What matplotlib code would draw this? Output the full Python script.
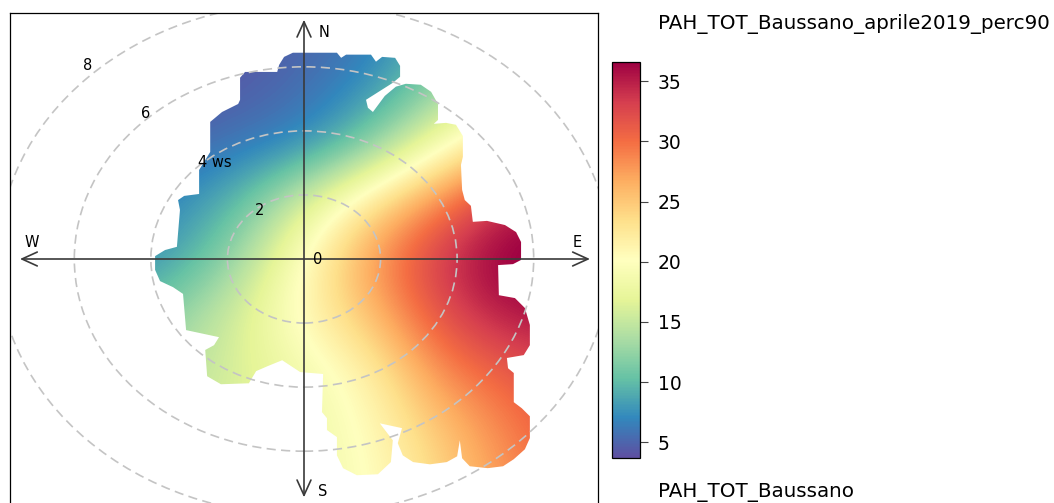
import numpy as np
import matplotlib
matplotlib.use("Agg")
import matplotlib.pyplot as plt
from matplotlib.patches import Polygon, Ellipse
from matplotlib.cm import ScalarMappable
from matplotlib.colors import Normalize

plt.rcParams['font.family'] = ['DejaVu Sans']

# griglia del valore (perc90) stimato: righe v = 8..-8, colonne u = -8..8 (passo 2 m/s)
grid_u = [-8, -6, -4, -2, 0, 2, 4, 6, 8]
grid_v = [8, 6, 4, 2, 0, -2, -4, -6, -8]
pah_grid = np.array([
    [4, 4, 4, 4, 5, 6, 10, 14, 18],
    [4, 4, 4, 4.5, 5.5, 7.5, 12, 17, 22],
    [4, 4, 5, 6, 7, 11.5, 19, 25, 29],
    [5, 6, 7, 9.5, 16, 23, 29, 35, 36],
    [6, 7, 8, 12.5, 20.5, 28, 34, 37.5, 37.5],
    [9, 10, 12, 16, 21, 25.5, 32, 35.5, 36],
    [12, 13, 14, 16, 18.5, 21.5, 28.5, 31, 33],
    [14, 15, 15.5, 16.5, 18, 20.5, 25, 29, 32],
    [15, 16, 16, 17, 18, 20, 24, 28, 31],
])

# contorno della zona con dati (u, v in m/s)
mask_u = [-1.67, -1.67, -1.54, -0.70, -0.65, -0.52, -0.29, 0.86, 0.97, 1.10, 1.75, 1.88,
          2.04, 2.38, 2.51, 2.51, 2.32, 1.62, 1.67, 1.80, 2.11, 2.40, 2.66, 3.05, 3.32,
          3.50, 3.50, 3.39, 3.71, 3.97, 4.15, 4.15, 4.10, 4.13, 4.20, 4.36, 4.41, 4.78,
          5.25, 5.54, 5.67, 5.67, 5.46, 5.07, 5.09, 5.51, 5.77, 5.90, 5.90, 5.74, 5.30,
          5.33, 5.48, 5.48, 5.69, 5.90, 5.90, 5.77, 5.48, 5.20, 4.80, 4.33, 4.13, 4.07,
          4.00, 3.73, 3.29, 2.85, 2.58, 2.45, 2.56, 1.98, 2.32, 2.27, 1.93, 1.38, 1.02,
          0.86, 0.86, 0.60, 0.60, 0.47, 0.50, -0.10, -0.57, -0.94, -1.25, -1.44, -2.17,
          -2.53, -2.58, -2.35, -2.22, -3.08, -3.16, -3.42, -3.76, -3.89, -3.89, -3.63,
          -3.32, -3.24, -3.29, -3.13, -2.74, -2.74, -2.58, -2.45, -2.45, -2.14, -1.72]
mask_v = [4.97, 5.66, 5.84, 5.84, 6.06, 6.31, 6.44, 6.44, 6.28, 6.38, 6.38, 6.16,
          6.31, 6.28, 6.03, 5.69, 5.50, 4.97, 4.72, 4.59, 5.09, 5.38, 5.47, 5.44, 5.22,
          4.84, 4.34, 4.22, 4.25, 4.19, 3.84, 3.19, 2.94, 2.16, 1.84, 1.66, 1.16, 1.19,
          1.06, 0.84, 0.53, -0.03, -0.16, -0.19, -1.13, -1.22, -1.53, -2.06, -2.69, -3.00,
          -3.09, -3.41, -3.56, -4.47, -4.66, -4.91, -5.59, -5.94, -6.25, -6.47, -6.53,
          -6.47, -6.22, -5.66, -6.16, -6.34, -6.41, -6.34, -6.13, -5.75, -5.28, -5.13,
          -5.66, -6.34, -6.72, -6.75, -6.53, -6.13, -5.56, -5.34, -4.97, -4.78, -3.59,
          -3.53, -3.16, -3.34, -3.50, -3.88, -3.91, -3.66, -2.84, -2.69, -2.44, -2.22,
          -1.09, -0.88, -0.69, -0.34, 0.09, 0.28, 0.38, 1.53, 1.84, 1.97, 2.03, 2.78,
          3.09, 3.34, 4.28, 4.59, 4.84]

ring_ws = [2, 4, 6, 8]
ring_labels = ['2', '4 ws', '6', '8']
cbar_ticks = [5, 10, 15, 20, 25, 30, 35]
vmin, vmax = 3.7, 36.6
title = 'PAH_TOT_Baussano_aprile2019_perc90'
subtitle = 'PAH_TOT_Baussano'

W, H = 1054, 503
fig = plt.figure(figsize=(W / 100, H / 100), dpi=100)
ax = fig.add_axes([10 / W, -2 / H, 588 / W, 492 / H])
lim = 7.68
ax.set_xlim(-lim, lim)
ax.set_ylim(-lim, lim)
ax.set_xticks([])
ax.set_yticks([])
for s in ax.spines.values():
    s.set_linewidth(0.9)

cmap = plt.get_cmap('Spectral_r')
img = ax.imshow(pah_grid, extent=(grid_u[0], grid_u[-1], grid_v[-1], grid_v[0]),
                origin='upper', cmap=cmap, vmin=vmin, vmax=vmax,
                interpolation='bicubic', aspect='auto', zorder=1)
outline = Polygon(np.column_stack([mask_u, mask_v]), closed=True,
                  transform=ax.transData, facecolor='none', edgecolor='none')
ax.add_patch(outline)
img.set_clip_path(outline)

# cerchi della velocita' del vento
for r in ring_ws:
    ax.add_patch(Ellipse((0, 0), 2 * r, 2 * r, fill=False, edgecolor='#c4c4c4',
                         lw=1.2, linestyle=(0, (5.5, 3.2)), zorder=2))
for r, lab in zip(ring_ws, ring_labels):
    if lab == '4 ws':
        ax.text(-0.75 * r + 0.23, 0.755 * r, lab, fontsize=10.5,
                ha='left', va='center', zorder=4)
    else:
        ax.text(-0.75 * r + 0.35, 0.755 * r, lab, fontsize=10.5,
                ha='center', va='center', zorder=4)
ax.text(0.37, 0, '0', fontsize=10.5, ha='center', va='center', zorder=4)

arr = dict(arrowstyle='<->,head_length=1.1,head_width=0.5', color='#3a3a3a', lw=1.2,
           shrinkA=0, shrinkB=0)
ax.annotate('', xy=(0, 7.47), xytext=(0, -7.44), arrowprops=arr, zorder=3)
ax.annotate('', xy=(7.47, 0), xytext=(-7.42, 0), arrowprops=arr, zorder=3)
ax.text(0.52, 7.06, 'N', fontsize=10.5, ha='center', va='center')
ax.text(0.50, -7.25, 'S', fontsize=10.5, ha='center', va='center')
ax.text(-7.10, 0.5, 'W', fontsize=10.5, ha='center', va='center')
ax.text(7.13, 0.5, 'E', fontsize=10.5, ha='center', va='center')

cax = fig.add_axes([612 / W, 45 / H, 28 / W, 396 / H])
cb = fig.colorbar(ScalarMappable(norm=Normalize(vmin, vmax), cmap=cmap), cax=cax,
                  ticks=cbar_ticks)
cb.outline.set_linewidth(0.9)
cax.tick_params(direction='out', length=5.8, width=0.8, color='#444444',
                labelsize=13.5, pad=7)

fig.text(658 / W, 1 - 24 / H, title, fontsize=14.3, ha='left', va='center')
fig.text(658 / W, 1 - 493 / H, subtitle, fontsize=14.3, ha='left', va='center')

fig.savefig('out.png', dpi=100)
